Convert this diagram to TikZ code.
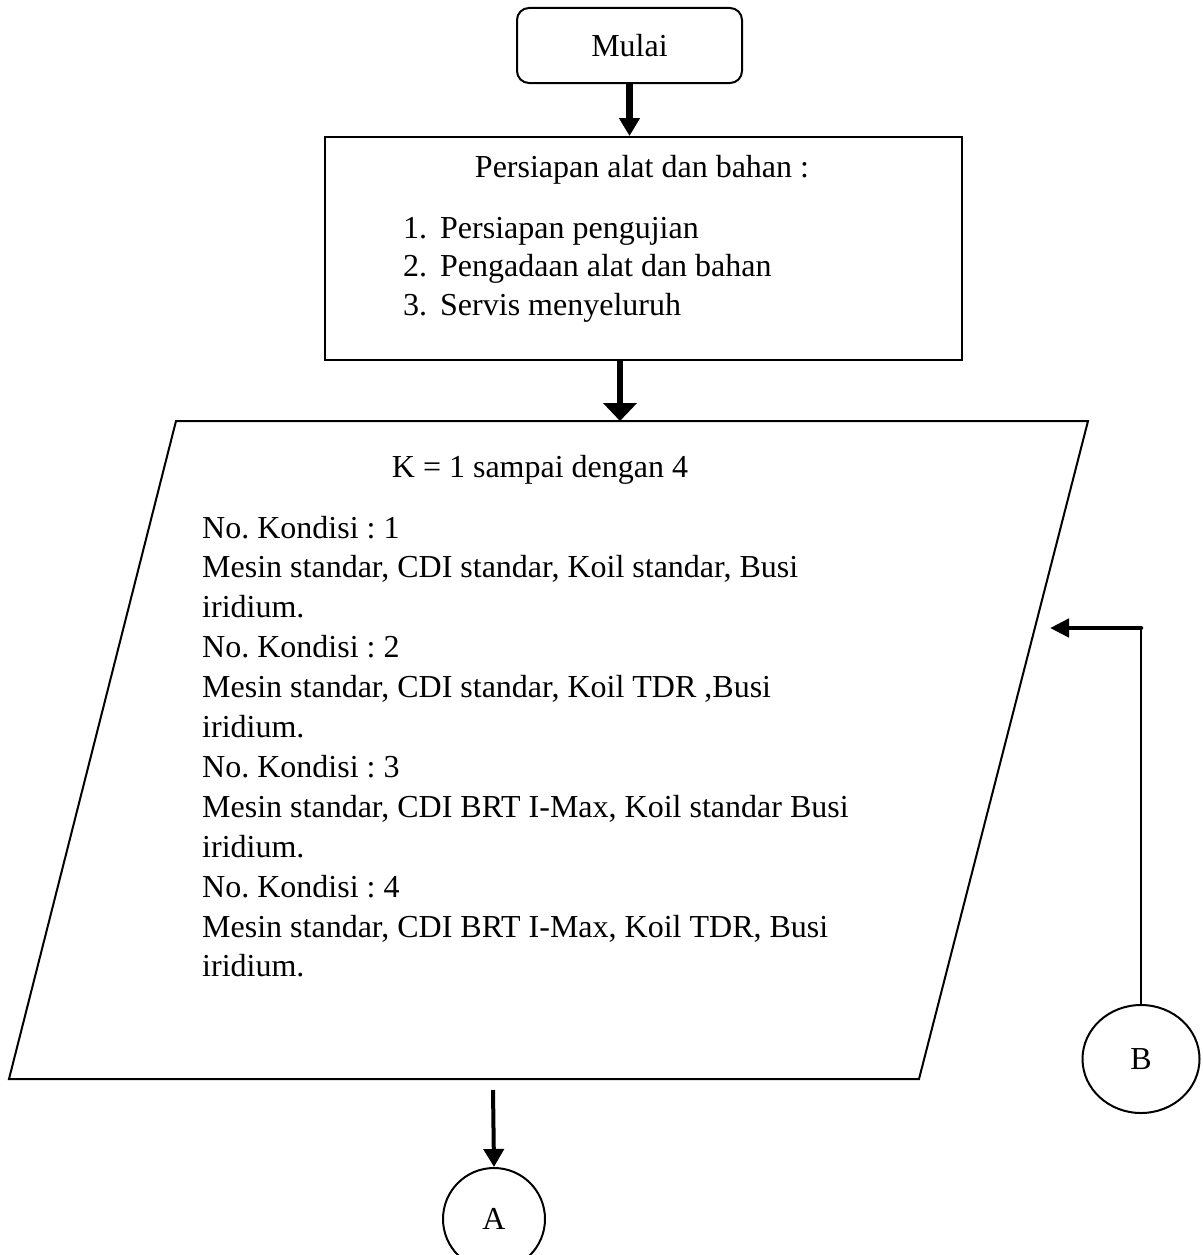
\documentclass[tikz,border=0pt]{standalone}
\usepackage{fontspec}
\setmainfont{Liberation Serif}
\usetikzlibrary{arrows.meta,shapes.geometric}
\frenchspacing
\begin{document}
\begin{tikzpicture}[x=1pt,y=-1pt,
  txt/.style={font=\fontsize{32}{40}\selectfont, inner sep=0pt},
  frame/.style={draw, line width=2pt},
  heavyarrow/.style={line width=6.5pt, -{Triangle[length=18pt,width=20pt]}},
  widearrow/.style={line width=6.5pt, -{Triangle[length=18pt,width=33pt]}},
  slimarrow/.style={line width=4pt, -{Triangle[length=18pt,width=20pt]}},
  backarrow/.style={line width=4.5pt, line cap=round, -{Triangle[length=19pt,width=18pt]}},
  connector/.style={draw, circle, line width=2pt, txt}]

% canvas
\useasboundingbox (0,0) rectangle (1202,1255);

% start terminal
\node[frame, rounded corners=12pt, minimum width=225pt, minimum height=75pt, txt]
  (start) at (629.5,45.5) {Mulai};

% preparation box
\node[frame, minimum width=637pt, minimum height=223pt] (prep) at (643.5,248.5) {};
\node[txt, anchor=base] (prepTitle) at (642,177) {Persiapan alat dan bahan :};
\foreach \i/\t [count=\k] in {1/Persiapan pengujian,2/Pengadaan alat dan bahan,3/Servis menyeluruh}{
  \node[txt, anchor=base west] (prepNum\k) at (403,{238+38.5*(\k-1)}) {\i.};
  \node[txt, anchor=base west] (prepItem\k) at (440,{238+38.5*(\k-1)}) {\t};
}

% input/output parallelogram
\draw[frame] (176,421) coordinate (pTL) -- (1088,421) coordinate (pTR)
  -- (919,1079) coordinate (pBR) -- (9,1079) coordinate (pBL) -- cycle;
\coordinate (pIn) at (620,421);
\coordinate (pOut) at (493,1090);
\coordinate (pSide) at (1050,628);

\node[txt, anchor=base] (loopText) at (540,477) {K = 1 sampai dengan 4};
\foreach \t [count=\k] in {
  No. Kondisi : 1,
  {Mesin standar, CDI standar, Koil standar, Busi},
  iridium.,
  No. Kondisi : 2,
  {Mesin standar, CDI standar, Koil TDR ,Busi},
  iridium.,
  No. Kondisi : 3,
  {Mesin standar, CDI BRT I-Max, Koil standar Busi},
  iridium.,
  No. Kondisi : 4,
  {Mesin standar, CDI BRT I-Max, Koil TDR, Busi},
  iridium.}{
  \node[txt, anchor=base west] (cond\k) at (202,{538+39.9*(\k-1)}) {\t};
}

% off-page connectors
\node[connector, minimum size=102pt] (conA) at (494,1219) {A};
\node[connector, ellipse, minimum width=117pt, minimum height=108pt] (conB) at (1141,1059) {B};

% flow
\draw[heavyarrow] (start.south) -- (start.south |- prep.north);
\draw[widearrow] (prep.south -| pIn) -- (pIn);
\draw[slimarrow] (pOut) -- (conA.north);
\coordinate (bBend) at (conB.north |- pSide);
\draw[line width=2pt] (conB.north) -- (bBend);
\draw[backarrow] (bBend) -- (pSide);
\end{tikzpicture}
\end{document}
